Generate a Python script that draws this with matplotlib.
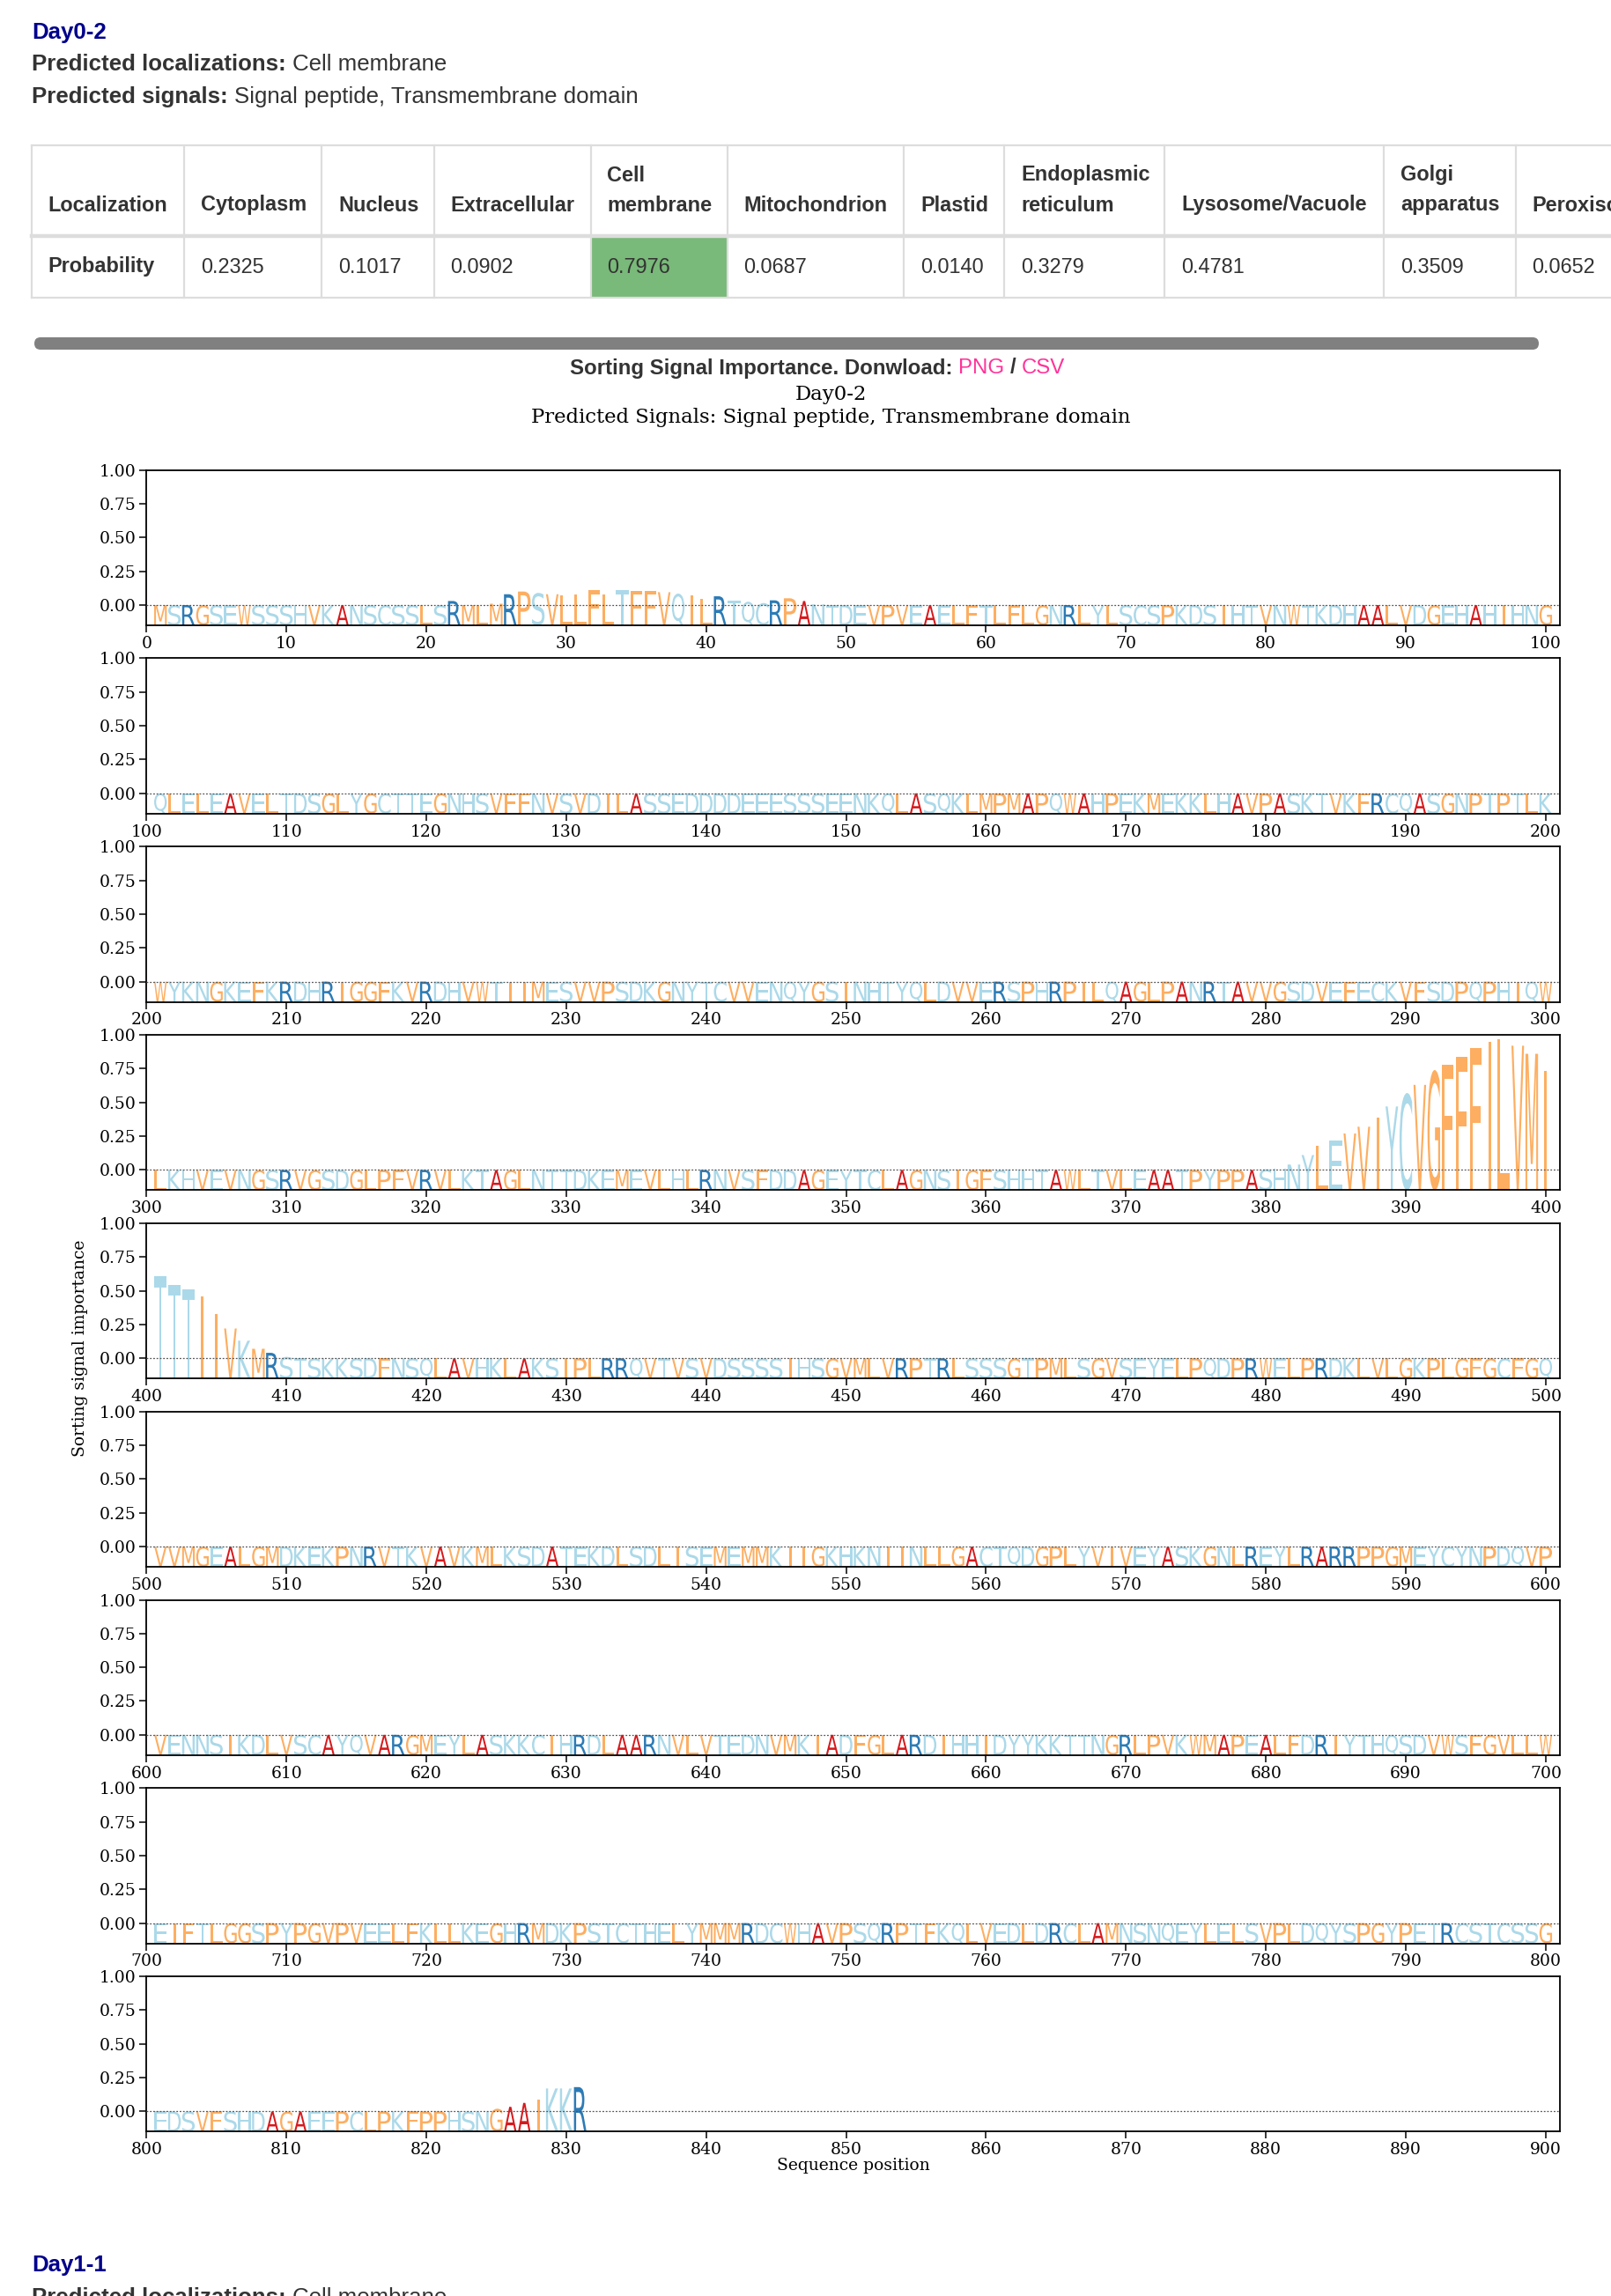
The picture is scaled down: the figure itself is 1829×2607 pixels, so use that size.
import matplotlib
matplotlib.use('Agg')
import matplotlib.pyplot as plt
import numpy as np
from matplotlib.textpath import TextPath
from matplotlib.patches import PathPatch, FancyBboxPatch, Rectangle
from matplotlib.font_manager import FontProperties
from matplotlib.transforms import Affine2D

# ---------------- data ----------------
sample = 'Day0-2'
next_sample = 'Day1-1'
pred_loc = 'Cell membrane'
pred_sig = 'Signal peptide, Transmembrane domain'

loc_names = ['Cytoplasm', 'Nucleus', 'Extracellular', 'Cell\nmembrane', 'Mitochondrion',
             'Plastid', 'Endoplasmic\nreticulum', 'Lysosome/Vacuole', 'Golgi\napparatus', 'Peroxisome']
loc_probs = [0.2325, 0.1017, 0.0902, 0.7976, 0.0687, 0.0140, 0.3279, 0.4781, 0.3509, 0.0652]

# sequence, 100 residues per row
seq_rows = [
    'MSRGSEWSSSHVKANSCSSLSRMLMRPSVLLFLTFFVQILRTQCRPANTDEVPVEAELFTLFLGNRLYLSCSPKDSIHTVNWTKDHAALVDGEHAHIHNG',
    'QLELEAVELTDSGLYGCTTEGNHSVFFNVSVDILASSEDDDDEEESSSEENKQLASQKLMPMAPQWAHPEKMEKKLHAVPASKTVKFRCQASGNPTPTLK',
    'WYKNGKEFKRDHRIGGFKVRDHVWTIIMESVVPSDKGNYTCVVENQYGSINHTYQLDVVERSPHRPILQAGLPANRTAVVGSDVEFECKVFSDPQPHIQW',
    'LKHVEVNGSRVGSDGLPFVRVLKTAGLNTTDKEMEVLHLRNVSFDDAGEYTCLAGNSIGFSHHTAWLTVLEAATPYPPASHNYLEVVIYCVGFFFILVMI',
    'TTTIIVKMRSTSKKSDFNSQLAVHKLAKSIPLRRQVTVSVDSSSSIHSGVMLVRPTRLSSSGTPMLSGVSEYELPQDPRWELPRDKLVLGKPLGFGCFGQ',
    'VVMGEALGMDKEKPNRVTKVAVKMLKSDATEKDLSDLISEMEMMKIIGKHKNIINLLGACTQDGPLYVIVEYASKGNLREYLRARRPPGMEYCYNPDQVP',
    'VENNSIKDLVSCAYQVARGMEYLASKKCIHRDLAARNVLVTEDNVMKIADFGLARDIHHIDYYKKTTNGRLPVKWMAPEALFDRIYTHQSDVWSFGVLLW',
    'EIFTLGGSPYPGVPVEELFKLLKEGHRMDKPSTCTHELYMMMRDCWHAVPSQRPTFKQLVEDLDRCLAMNSNQEYLELSVPLDQYSPGYPETRCSTCSSG',
    'EDSVFSHDAGAEEPCLPKFPPHSNGAAIKKR',
]

# importance (everything else sits at ~0)
sp_start = 22
sp_imp = [0.03, 0.0, 0.0, 0.01, 0.08, 0.10, 0.09, 0.08, 0.07, 0.08, 0.11, 0.08, 0.11,
          0.105, 0.105, 0.095, 0.085, 0.07, 0.045, 0.065, 0.035, 0.025, 0.015, 0.035, 0.05, 0.03, 0.005]
tm_start = 380
tm_imp = [0.005, 0.01, 0.04, 0.11, 0.18, 0.22, 0.27, 0.32, 0.39, 0.47, 0.57, 0.63, 0.74,
          0.78, 0.84, 0.90, 0.95, 0.97, 0.92, 0.86, 0.73,
          0.61, 0.54, 0.51, 0.46, 0.33, 0.22, 0.13, 0.07, 0.04, 0.01]
ct_start = 825
ct_imp = [0.02, 0.034, 0.063, 0.09, 0.17, 0.17, 0.18]

sequence = ''.join(seq_rows)
importance = np.zeros(len(sequence))
importance[sp_start - 1:sp_start - 1 + len(sp_imp)] = sp_imp
importance[tm_start - 1:tm_start - 1 + len(tm_imp)] = tm_imp
importance[ct_start - 1:ct_start - 1 + len(ct_imp)] = ct_imp

# ---------------- figure ----------------
W, H = 1829, 2607
fig = plt.figure(figsize=(W / 100, H / 100), dpi=100)
bg = fig.add_axes([0, 0, 1, 1])
bg.set_xlim(0, W)
bg.set_ylim(H, 0)
bg.axis('off')
renderer = fig.canvas.get_renderer()

SANS = 'Liberation Sans'
DARK = '#333333'
NAVY = '#00008b'
PINK = '#ff3399'


def run_text(x, y, parts, size, ha='left'):
    # parts: (text, weight, color); a space goes between parts
    space = 0.278 * size * 100 / 72
    objs = []
    for s, w, c in parts:
        objs.append(bg.text(0, y, s, fontsize=size, fontweight=w, color=c,
                            family=SANS, va='center', ha='left'))
    widths = [t.get_window_extent(renderer).width for t in objs]
    total = sum(widths) + space * (len(objs) - 1)
    x0 = x if ha == 'left' else x - total / 2
    for t, w in zip(objs, widths):
        t.set_x(x0)
        x0 += w + space


bg.text(36, 37, sample, fontsize=18.6, fontweight='bold', color=NAVY, family=SANS, va='center')
run_text(36, 73, [('Predicted localizations:', 'bold', DARK), (pred_loc, 'normal', DARK)], 18.6)
run_text(36, 110, [('Predicted signals:', 'bold', DARK), (pred_sig, 'normal', DARK)], 18.6)

# table
cols = [35.6, 209, 365, 492.5, 670.5, 825.5, 1026, 1140, 1322, 1571, 1720.5, 1900]
t_top, t_mid, t_bot = 165, 267.5, 338
best = int(np.argmax(loc_probs))
bg.add_patch(Rectangle((cols[best + 1] + 1, t_mid + 2), cols[best + 2] - cols[best + 1] - 2,
                       t_bot - t_mid - 3, facecolor='#79b979', edgecolor='none'))
bg.plot([cols[0], W], [t_top, t_top], color='#dddddd', lw=1.6)
bg.plot([cols[0], W], [t_mid, t_mid], color='#dddddd', lw=3.2)
bg.plot([cols[0], W], [t_bot, t_bot], color='#dddddd', lw=1.6)
for c in cols[:-1]:
    bg.plot([c, c], [t_top, t_bot], color='#dddddd', lw=1.6)

headers = ['Localization'] + loc_names
values = ['Probability'] + ['%.4f' % p for p in loc_probs]
for i, (hd, val) in enumerate(zip(headers, values)):
    x = cols[i] + 19
    lines = hd.split('\n')
    for j, ln in enumerate(lines):
        y = 233 - 34 * (len(lines) - 1 - j)
        bg.text(x, y, ln, fontsize=16.9, fontweight='bold', color=DARK, family=SANS, va='center')
    bg.text(x, 303, val, fontsize=16.9, fontweight='bold' if i == 0 else 'normal',
            color=DARK, family=SANS, va='center')

# scrollbar
bg.add_patch(FancyBboxPatch((39, 383), 1708, 14, boxstyle='round,pad=0,rounding_size=7',
                            facecolor='#808080', edgecolor='none'))

run_text(928, 418, [('Sorting Signal Importance. Donwload:', 'bold', DARK), ('PNG', 'normal', PINK),
                    ('/', 'bold', DARK), ('CSV', 'normal', PINK)], 17.3, ha='center')

# plot titles
bg.text(943, 448, sample, fontsize=16.4, family='DejaVu Serif', ha='center', va='center')
bg.text(943, 474, 'Predicted Signals: ' + pred_sig, fontsize=16.4, family='DejaVu Serif',
        ha='center', va='center')
bg.text(91.5, 1531, 'Sorting signal importance', fontsize=13.5, family='DejaVu Serif',
        rotation=90, ha='center', va='center')
bg.text(969, 2459, 'Sequence position', fontsize=13.5, family='DejaVu Serif', ha='center', va='center')

bg.text(36, 2572, next_sample, fontsize=18.6, fontweight='bold', color=NAVY, family=SANS, va='center')
run_text(36, 2609, [('Predicted localizations:', 'bold', DARK), (pred_loc, 'normal', DARK)], 18.6)

# ---------------- sequence logo ----------------
aa_colors = {'A': '#d7191c', 'R': '#2c7bb6'}
for c in 'MGWVLFPI':
    aa_colors[c] = '#fdae61'

glyph_font = FontProperties(family='DejaVu Sans')
glyph_cache = {}


def glyph_path(ch):
    if ch not in glyph_cache:
        p = TextPath((0, 0), ch, size=1, prop=glyph_font)
        glyph_cache[ch] = (p, p.get_extents())
    return glyph_cache[ch]


e_width = glyph_path('E')[1].width
FLOOR = -0.15
LW = 0.9


def draw_glyph(ax, ch, x, top):
    p, bb = glyph_path(ch)
    hs = min(LW / bb.width, LW / e_width)
    cw = hs * bb.width
    vs = (top - FLOOR) / bb.height
    tr = Affine2D().translate(-bb.x0, -bb.y0).scale(hs, vs).translate(x - cw / 2, FLOOR)
    ax.add_patch(PathPatch(tr.transform_path(p), facecolor=aa_colors.get(ch, '#abd9e9'),
                           edgecolor='none', lw=0, zorder=2))


ax_left, ax_w = 166.3, 1604.5
row_top0, row_h, row_step = 533.7, 176.3, 213.8
for k in range(len(seq_rows)):
    start = k * 100
    top = row_top0 + k * row_step
    ax = fig.add_axes([ax_left / W, 1 - (top + row_h) / H, ax_w / W, row_h / H])
    ax.set_xlim(start, start + 101)
    ax.set_ylim(FLOOR, 1.0)
    for n in range(start + 1, min(start + 100, len(sequence)) + 1):
        draw_glyph(ax, sequence[n - 1], n, importance[n - 1])
    ax.axhline(0, color='#555555', linestyle=(0, (1.5, 1.5)), lw=0.9, zorder=3)
    ax.set_xticks(np.arange(start, start + 101, 10))
    ax.set_yticks([0, 0.25, 0.5, 0.75, 1.0])
    ax.set_yticklabels(['%.2f' % v for v in [0, 0.25, 0.5, 0.75, 1.0]])
    ax.tick_params(length=6, width=1.1, pad=2.5, labelsize=13.5)
    for lab in ax.get_xticklabels() + ax.get_yticklabels():
        lab.set_family('DejaVu Serif')
    for sp in ax.spines.values():
        sp.set_linewidth(1.3)

fig.savefig('out.png', dpi=100)
